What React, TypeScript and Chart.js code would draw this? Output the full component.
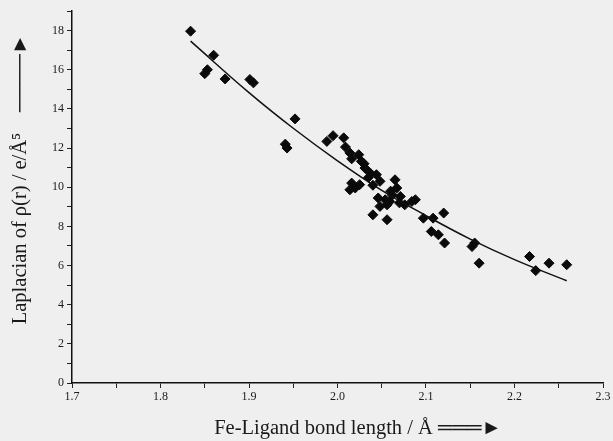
import React, { useEffect, useRef } from "react";
import { Chart, registerables } from "chart.js";

Chart.register(...registerables);

const bondLength = [
  1.834, 1.86, 1.853, 1.85, 1.873, 1.901, 1.905, 1.952, 1.941, 1.943,
  1.988, 1.995, 2.007, 2.009, 2.014, 2.024, 2.016, 2.027, 2.031, 2.037,
  2.044, 2.048, 2.016, 2.02, 2.014, 2.025, 2.065, 2.067, 2.046, 2.054,
  2.059, 2.048, 2.056, 2.071, 2.076, 2.084, 2.088, 2.04, 2.056, 2.097,
  2.108, 2.12, 2.106, 2.114, 2.121, 2.152, 2.155, 2.16, 2.217, 2.224,
  2.239, 2.259, 2.035, 2.06, 2.04, 2.07, 2.03, 2.062,
];
const laplacian = [
  17.97, 16.74, 16.0, 15.8, 15.53, 15.5, 15.33, 13.49, 12.2, 12.0,
  12.34, 12.63, 12.52, 12.05, 11.75, 11.66, 11.45, 11.32, 10.98, 10.72,
  10.64, 10.3, 10.21, 9.96, 9.87, 10.13, 10.38, 9.96, 9.45, 9.36,
  9.27, 9.02, 9.1, 9.53, 9.1, 9.27, 9.36, 8.59, 8.34, 8.42,
  8.42, 8.68, 7.74, 7.57, 7.15, 6.97, 7.15, 6.12, 6.46, 5.74,
  6.12, 6.04, 10.5, 9.8, 10.1, 9.2, 11.2, 9.6,
];
const fitX = [1.834, 1.9, 1.95, 2.0, 2.05, 2.1, 2.15, 2.2, 2.259];
const fitY = [17.46, 14.83, 13.01, 11.35, 9.84, 8.55, 7.35, 6.3, 5.22];

const xTitle = "        Fe-Ligand bond length / Å ═══►";
const yTitle = "       Laplacian of ρ(r) / e/Å⁵    ────►";

export default function App() {
  const ref = useRef<HTMLCanvasElement>(null);
  useEffect(() => {
    const ctx = ref.current!;
    const textColor = "#1a1a1a";
    const chart = new Chart(ctx, {
      type: "scatter",
      data: {
        datasets: [
          {
            type: "line",
            data: fitX.map((x, i) => ({ x, y: fitY[i] })),
            borderColor: "#111",
            borderWidth: 1.5,
            pointRadius: 0,
            tension: 0.4,
            fill: false,
          },
          {
            data: bondLength.map((x, i) => ({ x, y: laplacian[i] })),
            pointStyle: "rectRot",
            pointRadius: 5,
            backgroundColor: "#0a0a0a",
            borderColor: "#0a0a0a",
            borderWidth: 1,
          },
        ],
      },
      options: {
        animation: false,
        responsive: false,
        layout: { padding: { left: 0, right: 10, top: 11, bottom: 0 } },
        plugins: { legend: { display: false }, tooltip: { enabled: false } },
        scales: {
          x: {
            type: "linear",
            min: 1.7,
            max: 2.3,
            border: { display: true, color: "#111", width: 1.5 },
            grid: { drawOnChartArea: false, tickLength: 5, color: "#222" },
            ticks: {
              stepSize: 0.05,
              autoSkip: false,
              maxRotation: 0,
              color: textColor,
              font: { family: "Liberation Serif", size: 12 },
              padding: 2,
              callback: (v: any) => {
                const n = Math.round(Number(v) * 100);
                return n % 10 === 0 ? (n / 100).toFixed(1) : "";
              },
            },
            title: {
              display: true,
              text: xTitle,
              color: textColor,
              font: { family: "Liberation Serif", size: 20.5 },
              padding: { top: 2, bottom: 0 },
            },
            afterFit: (s: any) => {
              s.paddingRight = 0;
              s.paddingLeft = 0;
              s.height = 58;
            },
          },
          y: {
            type: "linear",
            min: 0,
            max: 19,
            border: { display: true, color: "#111", width: 1.5 },
            grid: { drawOnChartArea: false, tickLength: 5, color: "#222" },
            ticks: {
              stepSize: 1,
              autoSkip: false,
              color: textColor,
              font: { family: "Liberation Serif", size: 12 },
              padding: 3,
              callback: (v: any) => {
                const n = Math.round(Number(v));
                return n % 2 === 0 && n <= 18 ? String(n) : "";
              },
            },
            title: {
              display: true,
              text: yTitle,
              color: textColor,
              font: { family: "Liberation Serif", size: 20.5 },
              padding: { top: 8, bottom: 0 },
            },
            afterFit: (s: any) => {
              s.paddingTop = 0;
              s.paddingBottom = 0;
              s.width = 72;
            },
          },
        },
      },
    });
    return () => chart.destroy();
  }, []);
  return (
    <div
      style={{
        position: "absolute",
        left: 0,
        top: 0,
        width: 613,
        height: 441,
        background: "#efefef",
        overflow: "hidden",
      }}
    >
      <canvas ref={ref} width={613} height={441} />
    </div>
  );
}
